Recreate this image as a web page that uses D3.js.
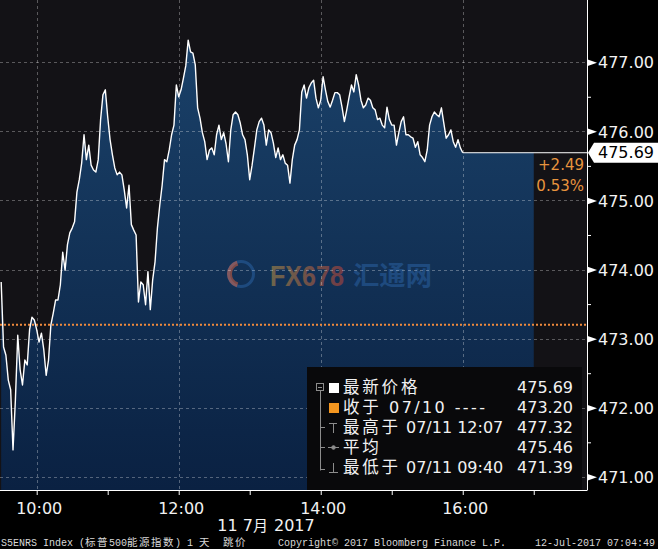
<!DOCTYPE html>
<html><head><meta charset="utf-8">
<script src="https://cdn.jsdelivr.net/npm/d3@7"></script>
<style>html,body{margin:0;padding:0;background:#000;}svg{display:block;}</style>
</head><body>
<script>
// ---------------- DATA ----------------
const tradeDate = "2017-07-11";
const times = [
"09:30","09:32","09:34","09:36","09:38","09:40","09:42","09:44","09:46","09:48",
"09:50","09:52","09:54","09:56","09:58","10:00","10:02","10:04","10:06","10:08",
"10:10","10:12","10:14","10:16","10:18","10:20","10:22","10:24","10:26","10:28",
"10:30","10:32","10:34","10:36","10:38","10:40","10:42","10:44","10:46","10:48",
"10:50","10:52","10:54","10:56","10:58","11:00","11:02","11:04","11:06","11:08",
"11:10","11:12","11:14","11:16","11:18","11:20","11:22","11:24","11:26","11:28",
"11:30","11:32","11:34","11:36","11:38","11:40","11:42","11:44","11:46","11:48",
"11:50","11:52","11:54","11:56","11:58","12:00","12:02","12:04","12:06","12:08",
"12:10","12:12","12:14","12:16","12:18","12:20","12:22","12:24","12:26","12:28",
"12:30","12:32","12:34","12:36","12:38","12:40","12:42","12:44","12:46","12:48",
"12:50","12:52","12:54","12:56","12:58","13:00","13:02","13:04","13:06","13:08",
"13:10","13:12","13:14","13:16","13:18","13:20","13:22","13:24","13:26","13:28",
"13:30","13:32","13:34","13:36","13:38","13:40","13:42","13:44","13:46","13:48",
"13:50","13:52","13:54","13:56","13:58","14:00","14:02","14:04","14:06","14:08",
"14:10","14:12","14:14","14:16","14:18","14:20","14:22","14:24","14:26","14:28",
"14:30","14:32","14:34","14:36","14:38","14:40","14:42","14:44","14:46","14:48",
"14:50","14:52","14:54","14:56","14:58","15:00","15:02","15:04","15:06","15:08",
"15:10","15:12","15:14","15:16","15:18","15:20","15:22","15:24","15:26","15:28",
"15:30","15:32","15:34","15:36","15:38","15:40","15:42","15:44","15:46","15:48",
"15:50","15:52","15:54","15:56","15:58","16:00"];
const prices = [
473.82,472.88,472.76,472.40,472.26,471.39,472.11,473.05,472.55,472.33,
472.69,472.62,473.13,473.31,473.27,473.13,472.95,473.08,472.84,472.47,
472.69,473.20,473.37,473.56,473.56,473.78,474.25,473.99,474.36,474.53,
474.60,474.69,475.12,475.30,475.54,475.95,475.59,475.80,475.51,475.44,
475.41,475.59,476.17,476.53,476.60,476.21,475.88,475.66,475.47,475.37,
475.41,475.37,475.15,474.89,475.22,474.65,474.57,474.50,473.53,473.82,
473.78,473.49,473.97,473.42,473.85,474.11,474.60,474.93,475.22,475.59,
475.56,475.73,475.95,476.09,476.67,476.50,476.60,476.77,476.95,477.32,
477.15,477.13,476.96,476.34,476.19,475.98,475.85,475.59,475.73,475.76,
475.66,475.95,476.09,475.88,475.98,475.82,475.56,476.02,476.24,476.28,
476.24,476.12,475.95,475.88,475.66,475.30,475.51,475.76,476.02,476.14,
476.19,476.09,475.80,476.02,475.98,475.83,475.62,475.76,475.59,475.66,
475.54,475.51,475.25,475.59,475.80,475.88,476.02,476.57,476.67,476.48,
476.63,476.70,476.74,476.48,476.34,476.45,476.79,476.60,476.43,476.35,
476.45,476.56,476.56,476.53,476.35,476.14,476.31,476.50,476.67,476.57,
476.82,476.67,476.45,476.34,476.38,476.48,476.45,476.34,476.31,476.17,
476.19,476.09,476.05,476.35,476.17,476.09,476.09,475.80,475.98,476.14,
476.21,475.95,475.95,475.92,475.90,475.77,475.85,475.66,475.62,475.56,
475.73,476.09,476.21,476.28,476.24,476.21,476.34,476.12,475.90,475.95,
476.02,475.85,475.77,475.88,475.76,475.69];
const prevClose = 473.20;
const lastPrice = 475.69;
const changeText = ["+2.49", "0.53%"];
const sessionEnd = "17:00";
const xDomain = ["09:29", "17:45"];
const yDomain = [470.81, 477.90];
const yTicks = [471, 472, 473, 474, 475, 476, 477];
const yMinorTicks = [471.5, 472.5, 473.5, 474.5, 475.5, 476.5];
const xGridHours = ["10:00", "12:00", "14:00", "16:00"];
const xTickHours = ["10:00","11:00","12:00","13:00","14:00","15:00","16:00","17:00"];
const xDateLabel = "11 7月 2017";
const legendNames = ["最新价格", "收于 07/10 ----", "最高于 07/11 12:07", "平均", "最低于 07/11 09:40"];
const legendValues = ["475.69", "473.20", "477.32", "475.46", "471.39"];
const footerLeft = "S5ENRS Index (标普500能源指数) 1 天  跳价";
const footerMid = "Copyright© 2017 Bloomberg Finance L.P.";
const footerRight = "12-Jul-2017 07:04:49";

// ---------------- CHART ----------------
const W = 658, H = 549, plotR = 587, plotB = 490;
const parse = d3.timeParse("%Y-%m-%d %H:%M");
const T = s => parse(tradeDate + " " + s);
const data = times.map((t, i) => ({t: T(t), v: prices[i]}));

const x = d3.scaleTime().domain(xDomain.map(T)).range([0, plotR]);
const y = d3.scaleLinear().domain(yDomain).range([plotB, 0]);

const svg = d3.select("body").append("svg").attr("width", W).attr("height", H);
const defs = svg.append("defs");
const grad = defs.append("linearGradient").attr("id", "fillg")
  .attr("gradientUnits", "userSpaceOnUse").attr("x1", 0).attr("x2", 0).attr("y1", 40).attr("y2", plotB);
grad.append("stop").attr("offset", 0).attr("stop-color", "#1a4169");
grad.append("stop").attr("offset", 1).attr("stop-color", "#0a2142");
const wg = defs.append("linearGradient").attr("id", "wmg").attr("x1", 0).attr("x2", 1).attr("y1", 0).attr("y2", 0);
wg.append("stop").attr("offset", 0).attr("stop-color", "#f8b840");
wg.append("stop").attr("offset", 1).attr("stop-color", "#ff4e30");

svg.append("rect").attr("width", W).attr("height", H).attr("fill", "#000");
svg.append("rect").attr("x", 0).attr("y", 0).attr("width", plotR).attr("height", plotB).attr("fill", "#131216");

// area (extended flat to session end)
const areaData = data.concat([{t: T(sessionEnd), v: lastPrice}]);
const area = d3.area().x(d => x(d.t)).y0(plotB).y1(d => y(d.v)).curve(d3.curveLinear);
svg.append("path").datum(areaData).attr("d", area).attr("fill", "url(#fillg)");

// watermark
const wm = svg.append("g");
wm.append("path").attr("d", d3.arc()({innerRadius: 11, outerRadius: 14, startAngle: 0, endAngle: 2 * Math.PI}))
  .attr("transform", "translate(241,274)").attr("fill", "#3373be").attr("opacity", 0.4);
wm.append("path").attr("d", d3.arc()({innerRadius: 9, outerRadius: 14, startAngle: Math.PI * 1.1, endAngle: Math.PI * 1.9}))
  .attr("transform", "translate(241,274)").attr("fill", "#ff6a3a").attr("opacity", 0.45);
wm.append("text").attr("x", 270).attr("y", 286).attr("font-family", "Liberation Sans, Arial").attr("font-weight", "bold")
  .attr("font-size", 29).attr("textLength", 74).attr("lengthAdjust", "spacingAndGlyphs")
  .attr("fill", "url(#wmg)").attr("opacity", 0.4).text("FX678");
wm.append("text").attr("x", 353).attr("y", 285).attr("font-family", "Noto Sans CJK SC").attr("font-weight", "bold")
  .attr("font-size", 26).attr("textLength", 79).attr("lengthAdjust", "spacingAndGlyphs")
  .attr("fill", "#3373be").attr("opacity", 0.4).text("汇通网");

// grid
const grid = svg.append("g").attr("stroke", "#ffffff").attr("stroke-opacity", 0.3)
  .attr("stroke-dasharray", "3,3").attr("stroke-width", 1);
yTicks.forEach(v => grid.append("line").attr("x1", 0).attr("x2", plotR)
  .attr("y1", Math.round(y(v)) + 0.5).attr("y2", Math.round(y(v)) + 0.5));
xGridHours.forEach(h => grid.append("line").attr("y1", 0).attr("y2", plotB)
  .attr("x1", Math.round(x(T(h))) + 0.5).attr("x2", Math.round(x(T(h))) + 0.5));

// previous close dotted line
svg.append("line").attr("x1", 0).attr("x2", plotR).attr("y1", y(prevClose)).attr("y2", y(prevClose))
  .attr("stroke", "#f08a3c").attr("stroke-width", 2).attr("stroke-dasharray", "2,2");

// price line
const line = d3.line().x(d => x(d.t)).y(d => y(d.v));
svg.append("path").datum(data).attr("d", line).attr("fill", "none")
  .attr("stroke", "#ffffff").attr("stroke-width", 1.4).attr("stroke-linejoin", "round");
// last-price line to axis
svg.append("line").attr("x1", x(data[data.length - 1].t)).attr("x2", plotR)
  .attr("y1", y(lastPrice)).attr("y2", y(lastPrice)).attr("stroke", "#ffffff").attr("stroke-width", 1);

// change text
svg.append("text").attr("x", 584).attr("y", 170).attr("text-anchor", "end")
  .attr("font-family", "DejaVu Sans").attr("font-size", 15).attr("fill", "#e8943e").text(changeText[0]);
svg.append("text").attr("x", 584).attr("y", 191).attr("text-anchor", "end")
  .attr("font-family", "DejaVu Sans").attr("font-size", 15).attr("fill", "#e8943e").text(changeText[1]);

// legend box
const lg = svg.append("g");
lg.append("rect").attr("x", 307).attr("y", 367).attr("width", 275).attr("height", plotB - 367).attr("fill", "#09090b");
const rowY = i => 393 + i * 20;
const tree = lg.append("g").attr("stroke", "#8c8c8c").attr("stroke-width", 1).attr("fill", "none");
tree.append("rect").attr("x", 316.5).attr("y", 383.5).attr("width", 7).attr("height", 7);
tree.append("line").attr("x1", 318).attr("x2", 322).attr("y1", 387.5).attr("y2", 387.5);
tree.append("line").attr("x1", 320.5).attr("x2", 320.5).attr("y1", 391).attr("y2", 470.5);
[2, 3, 4].forEach(i => tree.append("line").attr("x1", 320.5).attr("x2", 325).attr("y1", rowY(i) - 5.5 + (i === 4 ? 2 : 0)).attr("y2", rowY(i) - 5.5 + (i === 4 ? 2 : 0)));
tree.append("line").attr("x1", 329).attr("x2", 337).attr("y1", 423.5).attr("y2", 423.5);
tree.append("line").attr("x1", 333.5).attr("x2", 333.5).attr("y1", 423.5).attr("y2", 433);
tree.append("line").attr("x1", 328).attr("x2", 339).attr("y1", 447.5).attr("y2", 447.5);
tree.append("circle").attr("cx", 333.5).attr("cy", 447.5).attr("r", 1.8).attr("fill", "#8c8c8c");
tree.append("line").attr("x1", 333.5).attr("x2", 333.5).attr("y1", 463).attr("y2", 472.5);
tree.append("line").attr("x1", 329).attr("x2", 338).attr("y1", 472.5).attr("y2", 472.5);
lg.append("rect").attr("x", 329).attr("y", 383).attr("width", 10).attr("height", 10).attr("fill", "#ffffff");
lg.append("rect").attr("x", 329).attr("y", 403).attr("width", 10).attr("height", 10).attr("fill", "#f39620");

function addRuns(textSel, str, latinFont, latinSize, cjkFont, cjkSize, cjkSpacing) {
  const runs = str.match(/([\u3000-\u9fff\uff00-\uffef]+|[^\u3000-\u9fff\uff00-\uffef]+)/g) || [];
  runs.forEach(r => {
    const isCJK = /[\u3000-\u9fff\uff00-\uffef]/.test(r);
    const ts = textSel.append("tspan").attr("font-family", isCJK ? cjkFont : latinFont)
      .attr("font-size", isCJK ? cjkSize : latinSize).text(r);
    if (isCJK && cjkSpacing) ts.attr("letter-spacing", cjkSpacing);
    if (!isCJK && /-{2,}/.test(r)) ts.attr("letter-spacing", 2.4);
  });
}
legendNames.forEach((n, i) => {
  const t = lg.append("text").attr("x", 343).attr("y", rowY(i)).attr("fill", "#f2f2f2").style("white-space", "pre");
  addRuns(t, n, "DejaVu Sans", 16, "Noto Sans CJK SC", 16.5, 2.8);
  lg.append("text").attr("x", 573).attr("y", rowY(i)).attr("text-anchor", "end").attr("fill", "#f2f2f2")
    .attr("font-family", "DejaVu Sans").attr("font-size", 16).text(legendValues[i]);
});

// y axis (right)
const yAxis = d3.axisRight(y).tickValues(yTicks).tickSize(0).tickPadding(11).tickFormat(d3.format(".2f"));
const ya = svg.append("g").attr("transform", `translate(${plotR},0)`).call(yAxis);
ya.select(".domain").remove();
ya.selectAll("text").attr("font-family", "DejaVu Sans").attr("font-size", 16).attr("fill", "#f2f2f2").attr("dy", "0.36em");
ya.selectAll(".tick").append("path").attr("d", "M0,-3.5L10,0L0,3.5Z").attr("fill", "#ffffff");
const yMinor = d3.axisRight(y).tickValues(yMinorTicks).tickSize(4).tickFormat("");
const ym = svg.append("g").attr("transform", `translate(${plotR},0)`).call(yMinor);
ym.select(".domain").remove();
ym.selectAll("line").attr("stroke", "#ffffff");
svg.append("line").attr("x1", plotR + 0.5).attr("x2", plotR + 0.5).attr("y1", 0).attr("y2", plotB + 0.5)
  .attr("stroke", "#ffffff").attr("stroke-width", 1);

// last price tag
const ly = y(lastPrice);
svg.append("path").attr("d", `M${plotR + 1},${ly} L${plotR + 7},${ly - 10} L${W},${ly - 10} L${W},${ly + 10} L${plotR + 7},${ly + 10} Z`)
  .attr("fill", "#ffffff");
svg.append("text").attr("x", 598).attr("y", ly).attr("dy", "0.36em").attr("font-family", "DejaVu Sans")
  .attr("font-size", 16).attr("fill", "#000").text(lastPrice.toFixed(2));

// x axis
const xa = svg.append("g").attr("transform", `translate(0,${plotB})`)
  .call(d3.axisBottom(x).tickValues(xTickHours.map(T)).tickSize(5)
    .tickFormat(d => xGridHours.includes(d3.timeFormat("%H:%M")(d)) ? d3.timeFormat("%H:%M")(d) : ""));
xa.select(".domain").attr("d", `M0,0.5H${plotR}`).attr("stroke", "#ffffff");
xa.selectAll(".tick line").attr("stroke", "#ffffff");
xa.selectAll(".tick text").attr("font-family", "DejaVu Sans").attr("font-size", 16).attr("fill", "#f2f2f2")
  .attr("y", 24).attr("dy", 0).attr("dx", 2);
const dl = svg.append("text").attr("x", 266).attr("y", 531).attr("text-anchor", "middle").attr("fill", "#f2f2f2").style("white-space", "pre");
addRuns(dl, xDateLabel, "DejaVu Sans", 16, "Noto Sans CJK SC", 15, 1);

// footer
const fl = svg.append("text").attr("x", 1).attr("y", 546).attr("fill", "#d8d8d8").style("white-space", "pre");
addRuns(fl, footerLeft, "Liberation Mono", 10, "Noto Sans CJK SC", 10.5, 1.5);
svg.append("text").attr("x", 278).attr("y", 546).attr("fill", "#d8d8d8").attr("font-family", "Liberation Mono")
  .attr("font-size", 10).text(footerMid);
svg.append("text").attr("x", 655).attr("y", 546).attr("text-anchor", "end").attr("fill", "#d8d8d8")
  .attr("font-family", "Liberation Mono").attr("font-size", 10).text(footerRight);
</script>
</body></html>
